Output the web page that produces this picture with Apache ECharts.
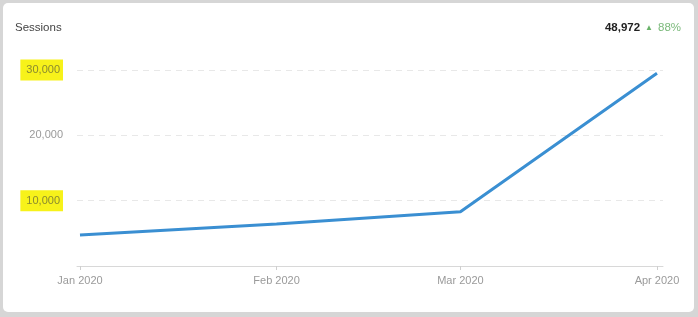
<!DOCTYPE html>
<html><head><meta charset="utf-8">
<script src="https://cdn.jsdelivr.net/npm/echarts@6/dist/echarts.min.js"></script>
<style>
html,body{margin:0;padding:0;background:#d6d6d6;width:698px;height:317px;overflow:hidden;}
#chart{position:absolute;left:3px;top:3px;width:691px;height:309px;background:#fff;border-radius:5px;}
</style></head><body>
<div id="chart"></div>
<script>
const monthLabels = ['Jan 2020', 'Feb 2020', 'Mar 2020', 'Apr 2020'];
const monthDates = [[2020,0,1],[2020,1,1],[2020,2,1],[2020,3,1]];
const sessions = [4750, 6420, 8300, 29500];
const yTicks = [0, 10000, 20000, 30000];
const highlighted = [10000, 30000];
const totalText = '48,972';
const changeText = '88%';

const DAY = 86400000;
const ts = monthDates.map(d => Date.UTC(d[0], d[1], d[2]));
const seriesData = ts.map((t, i) => [t, sessions[i]]);
const FONT = 'Arial, Liberation Sans, sans-serif';

const chart = echarts.init(document.getElementById('chart'));
chart.setOption({
  animation: false,
  title: [
    { text: 'Sessions', left: 7, top: 14, textStyle: { fontFamily: FONT, fontSize: 11.5, fontWeight: 'normal', color: '#444' } },
    { text: '{a|' + totalText + '} {t|▲} {b|' + changeText + '}', right: 8, top: 11,
      textStyle: { fontWeight: 'normal', rich: {
        a: { fontFamily: FONT, fontSize: 11.5, fontWeight: 'bold', color: '#222' },
        t: { fontFamily: FONT, fontSize: 8, color: '#6ab36a', verticalAlign: 'middle' },
        b: { fontFamily: FONT, fontSize: 11.5, fontWeight: 'normal', color: '#7cba7c' } } } }
  ],
  grid: { left: 74, right: 31, top: 67, bottom: 46 },
  xAxis: {
    type: 'value',
    min: ts[0] - 0.47 * DAY,
    max: ts[3] + 0.95 * DAY,
    axisLine: { lineStyle: { color: '#d8d8d8', width: 1 } },
    axisTick: { show: true, customValues: ts, length: 4, lineStyle: { color: '#cfcfcf' } },
    axisLabel: {
      customValues: ts, margin: 9, color: '#9a9a9a', fontSize: 11,
      fontFamily: FONT,
      formatter: v => { const i = ts.indexOf(v); return i >= 0 ? monthLabels[i] : ''; }
    },
    splitLine: { show: false }
  },
  yAxis: {
    type: 'value', min: 0, max: 30000, interval: 10000,
    axisLine: { show: false }, axisTick: { show: false },
    axisLabel: {
      margin: 14, color: '#9a9a9a', fontSize: 11,
      fontFamily: FONT,
      formatter: v => {
        if (v === 0) return '';
        const s = v.toLocaleString('en-US');
        return highlighted.indexOf(v) >= 0 ? '{h|' + s + '}' : s;
      },
      rich: { h: { backgroundColor: '#f7f21a', color: '#8a8a30', padding: [5, 3, 5, 6], fontSize: 11, fontFamily: FONT } }
    },
    splitLine: { lineStyle: { color: '#e8e8e8', type: [6, 5], width: 1 } }
  },
  series: [{
    type: 'line', data: seriesData, showSymbol: false, symbol: 'none',
    lineStyle: { color: '#3a8fd2', width: 3 }
  }]
});
</script></body></html>
